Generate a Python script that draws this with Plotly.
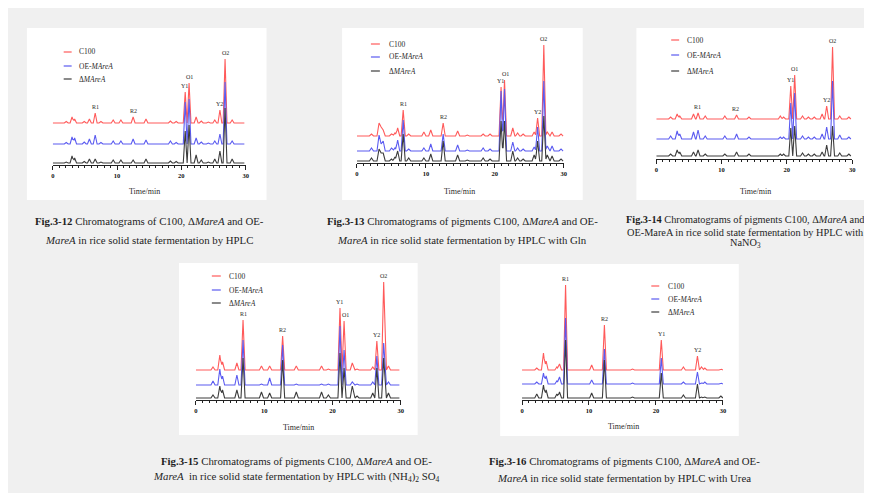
import plotly.graph_objects as go

W, H = 872, 493

SERIES = ["C100", "OE-<i>MAreA</i>", "Δ<i>MAreA</i>"]
COLORS = ["#ff5a5a", "#5a5af0", "#3c3c3c"]

# ---------------- data: peak tables ----------------
# Fig.3-12
p1_times = [2.1, 3.0, 3.4, 4.9, 5.7, 6.6, 7.5, 9.4, 10.6, 12.5, 14.5, 18.3, 19.2, 20.6, 21.2, 22.3, 23.1, 24.2, 25.2, 26.0, 26.8, 27.9]
p1_c100 = [1.5, 6, 4, 1.5, 4, 10, 1.5, 3, 3, 6, 4, 2, 1.5, 31, 40, 6, 2, 1, 3, 13, 64, 3]
p1_oe = [1.5, 7, 6, 2, 5, 9, 1.5, 3, 3, 5, 4, 3, 1.5, 42, 45, 6, 2, 1, 3, 10, 62, 3]
p1_del = [1, 7, 5, 1.5, 4, 4, 1, 3, 3, 3, 4, 2, 1.5, 32, 38, 8, 3, 1, 4, 12, 55, 4]
p1_labels = ["R1", "R2", "Y1", "O1", "Y2", "O2"]
p1_label_t = [6.6, 12.5, 20.5, 21.3, 26.0, 26.8]
p1_label_h = [10, 6, 31, 40, 13, 64]

# Fig.3-13
p2_times = [2.1, 3.2, 3.5, 3.8, 5.0, 5.5, 5.9, 6.7, 7.5, 9.7, 10.7, 12.5, 14.6, 16.0, 18.3, 19.3, 20.9, 21.4, 22.6, 23.3, 24.1, 25.7, 26.2, 27.1, 27.6, 28.3, 29.6]
p2_c100 = [2, 13, 9, 6, 2, 3, 8, 26, 2, 4, 6, 13, 5, 1, 2, 2, 49, 56, 8, 3, 2, 4, 18, 91, 4, 4, 2]
p2_oe = [3, 16, 7, 10, 3, 3, 11, 31, 2, 3, 7, 17, 6, 1, 3, 2, 60, 62, 9, 3, 2, 4, 24, 70, 5, 5, 2]
p2_del = [3, 12, 8, 8, 2, 4, 10, 27, 3, 3, 7, 20, 6, 1, 3, 2, 40, 40, 10, 3, 2, 6, 20, 45, 6, 5, 2]
p2_labels = ["R1", "R2", "Y1", "O1", "Y2", "O2"]
p2_label_t = [6.7, 12.5, 20.8, 21.5, 26.2, 27.1]
p2_label_h = [26, 13, 49, 56, 18, 91]

# Fig.3-14
p3_times = [2.2, 3.2, 3.6, 5.7, 6.4, 7.5, 10.5, 12.3, 14.2, 19.0, 19.5, 20.6, 21.2, 22.4, 23.3, 24.2, 25.4, 26.1, 27.0, 28.1, 29.5]
p3_c100 = [2, 5, 3, 5, 6, 3, 3, 4, 2, 3, 2, 33, 44, 3, 2, 2, 5, 13, 72, 3, 2]
p3_oe = [3, 8, 5, 7, 9, 3, 3, 5, 2, 2, 2, 36, 46, 3, 2, 2, 5, 12, 58, 4, 2]
p3_del = [2, 6, 4, 4, 6, 2, 2, 4, 2, 2, 2, 28, 30, 3, 2, 2, 4, 11, 30, 3, 2]
p3_labels = ["R1", "R2", "Y1", "O1", "Y2", "O2"]
p3_label_t = [6.3, 12.1, 20.5, 21.2, 26.1, 27.0]
p3_label_h = [6, 4, 33, 44, 13, 72]

# Fig.3-15
p4_times = [2.5, 3.5, 3.9, 6.0, 6.9, 9.6, 10.8, 12.7, 14.7, 18.4, 19.4, 21.1, 21.7, 22.9, 23.6, 25.9, 26.5, 27.5, 28.2]
p4_c100 = [3, 15, 8, 7, 50, 4, 4, 34, 4, 4, 1, 62, 49, 7, 1, 3, 29, 88, 4]
p4_oe = [4, 16, 9, 10, 45, 1, 7, 40, 1, 1, 1, 59, 35, 3, 1, 3, 29, 42, 3]
p4_del = [3, 12, 8, 8, 40, 6, 5, 38, 6, 6, 3, 45, 30, 12, 2, 5, 30, 40, 5]
p4_labels = ["R1", "R2", "Y1", "O1", "Y2", "O2"]
p4_label_t = [6.9, 12.7, 21.0, 21.9, 26.5, 27.5]
p4_label_h = [50, 34, 62, 49, 29, 88]

# Fig.3-16
p5_times = [2.2, 3.2, 3.6, 5.2, 5.6, 6.5, 10.4, 12.3, 16.5, 20.8, 24.1, 26.2, 26.8, 27.3, 29.7]
p5_c100 = [2, 17, 9, 3, 6, 85, 5, 45, 1, 30, 3, 14, 3, 2, 1]
p5_oe = [2, 11, 8, 3, 7, 66, 4, 35, 1, 26, 2, 12, 1, 2, 1]
p5_del = [4, 13, 8, 4, 6, 58, 5, 38, 1, 25, 3, 14, 1, 1, 2]
p5_labels = ["R1", "R2", "Y1", "Y2"]
p5_label_t = [6.5, 12.3, 20.8, 26.2]
p5_label_h = [85, 45, 30, 14]

xticks = [0, 10, 20, 30]

captions = [
    ["<b>Fig.3-12</b> Chromatograms of C100, Δ<i>MareA</i> and OE-",
     "<i>MareA</i> in rice solid state fermentation by HPLC"],
    ["<b>Fig.3-13</b> Chromatograms of pigments C100, Δ<i>MareA</i> and OE-",
     "<i>MareA</i> in rice solid state fermentation by HPLC with Gln"],
    ["<b>Fig.3-14</b> Chromatograms of pigments C100, Δ<i>MareA</i> and",
     "OE-MareA in rice solid state fermentation by HPLC with",
     "NaNO<sub>3</sub>"],
    ["<b>Fig.3-15</b> Chromatograms of pigments C100, Δ<i>MareA</i> and OE-",
     "<i>MareA</i>  in rice solid state fermentation by HPLC with (NH<sub>4</sub>)<sub>2</sub> SO<sub>4</sub>"],
    ["<b>Fig.3-16</b> Chromatograms of pigments C100, Δ<i>MareA</i> and OE-",
     "<i>MareA</i> in rice solid state fermentation by HPLC with Urea"],
]

# ---------------- layout geometry (pixels) ----------------
panels = [
    dict(times=p1_times, ys=[p1_c100, p1_oe, p1_del], labels=p1_labels, lt=p1_label_t, lh=p1_label_h,
         box=(17, 20, 258, 192), x0=43, x1=237, axis=157, base=(115, 136, 155), top=35,
         leg=(54, 62, 67, (44, 58, 71)), xlab=(135, 183), cap_x=140, cap_y=(213, 232), cap_size=10.8),
    dict(times=p2_times, ys=[p2_c100, p2_oe, p2_del], labels=p2_labels, lt=p2_label_t, lh=p2_label_h,
         box=(334, 20, 576, 192), x0=349, x1=557, axis=155, base=(128, 143, 153), top=25,
         leg=(363, 372, 379, (36, 49, 63)), xlab=(452, 183), cap_x=455, cap_y=(213, 232), cap_size=10.8),
    dict(times=p3_times, ys=[p3_c100, p3_oe, p3_del], labels=p3_labels, lt=p3_label_t, lh=p3_label_h,
         box=(630, 20, 872, 192), x0=650, x1=847, axis=151, base=(111, 131, 148), top=25,
         leg=(665, 673, 679, (32, 47, 63)), xlab=(750, 183), cap_x=740, cap_y=(211, 224, 236), cap_size=10.3),
    dict(times=p4_times, ys=[p4_c100, p4_oe, p4_del], labels=p4_labels, lt=p4_label_t, lh=p4_label_h,
         box=(170, 255, 410, 427), x0=187, x1=393, axis=392, base=(362, 377, 390), top=262,
         leg=(203, 212, 218, (268, 282, 295)), xlab=(290, 419), cap_x=288, cap_y=(453, 469), cap_size=10.8),
    dict(times=p5_times, ys=[p5_c100, p5_oe, p5_del], labels=p5_labels, lt=p5_label_t, lh=p5_label_h,
         box=(493, 256, 733, 428), x0=515, x1=717, axis=392, base=(362, 376, 390), top=262,
         leg=(645, 653, 660, (278, 291, 304)), xlab=(617, 418), cap_x=618, cap_y=(453, 470), cap_size=10.8),
]

HALF_W = 0.3  # half-width of a peak in minutes (drawing style)


def peak_path(times, heights, offset):
    # vertices of triangular peaks; the sum of peaks evaluated at every vertex
    xs = {0.0, 29.8}
    for t in times:
        xs.update([round(t - HALF_W, 4), t, round(t + HALF_W, 4)])
    xs = sorted(xs)
    ys = []
    for x in xs:
        v = 0.0
        for t, h in zip(times, heights):
            v += h * max(0.0, 1 - abs(x - t) / HALF_W)
        ys.append(offset + v)
    return xs, ys


def px(x):
    return x / W


def py(y):
    return 1 - y / H


fig = go.Figure()
shapes = []
annotations = []
layout_axes = {}
FONT = "Liberation Serif"
TXT = "#2a2a2a"

for i, p in enumerate(panels):
    k = i + 1
    xa = "x" if k == 1 else f"x{k}"
    ya = "y" if k == 1 else f"y{k}"
    black_px = p["base"][2]
    offsets = [black_px - b for b in p["base"]]
    ylo = -(p["axis"] - black_px)
    yhi = black_px - p["top"]

    bx0, by0, bx1, by1 = p["box"]
    shapes.append(dict(type="rect", xref="paper", yref="paper", x0=px(bx0), x1=px(bx1),
                       y0=py(by1), y1=py(by0), fillcolor="white", line=dict(width=0), layer="below"))

    for s in range(3):
        xs, ys = peak_path(p["times"], p["ys"][s], offsets[s])
        fig.add_trace(go.Scatter(x=xs, y=ys, mode="lines", name=SERIES[s], showlegend=False,
                                 line=dict(color=COLORS[s], width=1.1), xaxis=xa, yaxis=ya,
                                 hoverinfo="skip"))

    for lab, t, h in zip(p["labels"], p["lt"], p["lh"]):
        annotations.append(dict(x=t, y=offsets[0] + h, xref=xa, yref=ya, text=lab, showarrow=False,
                                yanchor="bottom", yshift=1, font=dict(family=FONT, size=6, color=TXT)))

    lx0, lx1, ltx, rows = p["leg"]
    for s in range(3):
        shapes.append(dict(type="line", xref="paper", yref="paper", x0=px(lx0), x1=px(lx1),
                           y0=py(rows[s]), y1=py(rows[s]), line=dict(color=COLORS[s], width=1.2)))
        annotations.append(dict(x=px(ltx), y=py(rows[s]), xref="paper", yref="paper", text=SERIES[s],
                                showarrow=False, xanchor="left", yanchor="middle",
                                font=dict(family=FONT, size=7.5, color=TXT)))

    annotations.append(dict(x=px(p["xlab"][0]), y=py(p["xlab"][1]), xref="paper", yref="paper",
                            text="Time/min", showarrow=False, xanchor="center", yanchor="middle",
                            font=dict(family=FONT, size=8, color=TXT)))

    for line, cy in zip(captions[i], p["cap_y"]):
        annotations.append(dict(x=px(p["cap_x"]), y=py(cy), xref="paper", yref="paper", text=line,
                                showarrow=False, xanchor="center", yanchor="middle",
                                font=dict(family=FONT, size=p["cap_size"], color="#1e1e1e")))

    layout_axes["xaxis" if k == 1 else f"xaxis{k}"] = dict(
        domain=[px(p["x0"]), px(p["x1"])], range=[0, 30], anchor=ya,
        showline=True, linecolor="#222", linewidth=1.4, showgrid=False, zeroline=False,
        tickmode="array", tickvals=xticks, ticktext=[str(v) for v in xticks],
        ticks="outside", ticklen=4, tickwidth=1.1, tickcolor="#222",
        tickfont=dict(family=FONT, size=6.5, color="#111", weight="bold"),
        minor=dict(dtick=1, tick0=0, ticks="outside", ticklen=2, tickwidth=0.8, tickcolor="#222"),
    )
    layout_axes["yaxis" if k == 1 else f"yaxis{k}"] = dict(
        domain=[py(p["axis"]), py(p["top"])], range=[ylo, yhi], anchor=xa, visible=False,
    )

fig.update_layout(
    width=W, height=H, margin=dict(l=0, r=0, t=0, b=0),
    paper_bgcolor="#f0f0f0", plot_bgcolor="rgba(0,0,0,0)",
    shapes=shapes, annotations=annotations, showlegend=False,
    **layout_axes,
)

fig.write_html("out.html")
